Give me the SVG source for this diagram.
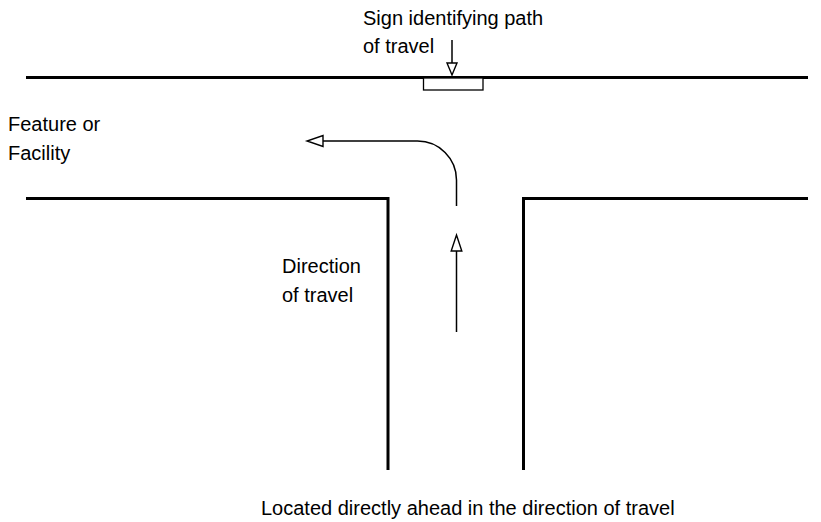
<svg xmlns="http://www.w3.org/2000/svg" width="821" height="522" viewBox="0 0 821 522">
<style>
text{font-family:"Liberation Sans",Arial,Helvetica,sans-serif;font-size:20px;fill:#000}
.wall{fill:none;stroke:#000;stroke-width:3;stroke-linecap:butt}
.thin{fill:none;stroke:#000;stroke-width:1.5}
.head{fill:#fff;stroke:#000;stroke-width:1.4;stroke-linejoin:miter}
</style>
<rect width="821" height="522" fill="#fff"/>
<g id="walls">
<line class="wall" x1="26" y1="77.5" x2="808" y2="77.5"/>
<polyline class="wall" points="26,198.5 388,198.5 388,470"/>
<polyline class="wall" points="808,198.5 523.5,198.5 523.5,470"/>
</g>
<g id="sign">
<rect x="423.5" y="78" width="59.5" height="12" fill="#fff" stroke="#000" stroke-width="1.3"/>
<text x="363" y="25">Sign identifying path</text>
<text x="363" y="53">of travel</text>
</g>
<g id="feature">
<text x="8" y="131">Feature or</text>
<text x="8" y="160">Facility</text>
</g>
<g id="direction">
<text x="282" y="273">Direction</text>
<text x="282" y="302">of travel</text>
</g>
<g id="caption">
<text x="261" y="515">Located directly ahead in the direction of travel</text>
</g>
<g id="connectors">
<line class="thin" x1="452" y1="40" x2="452" y2="63"/>
<polygon class="head" points="447,63 457,63 452,75"/>
<path class="thin" d="M456.5,206 V180 A39,39 0 0 0 417.5,141 H323"/>
<polygon class="head" points="323,135.5 323,146.5 307,141"/>
<line class="thin" x1="456.5" y1="332" x2="456.5" y2="251"/>
<polygon class="head" points="451.2,251 461.8,251 456.5,235"/>
</g>
</svg>
